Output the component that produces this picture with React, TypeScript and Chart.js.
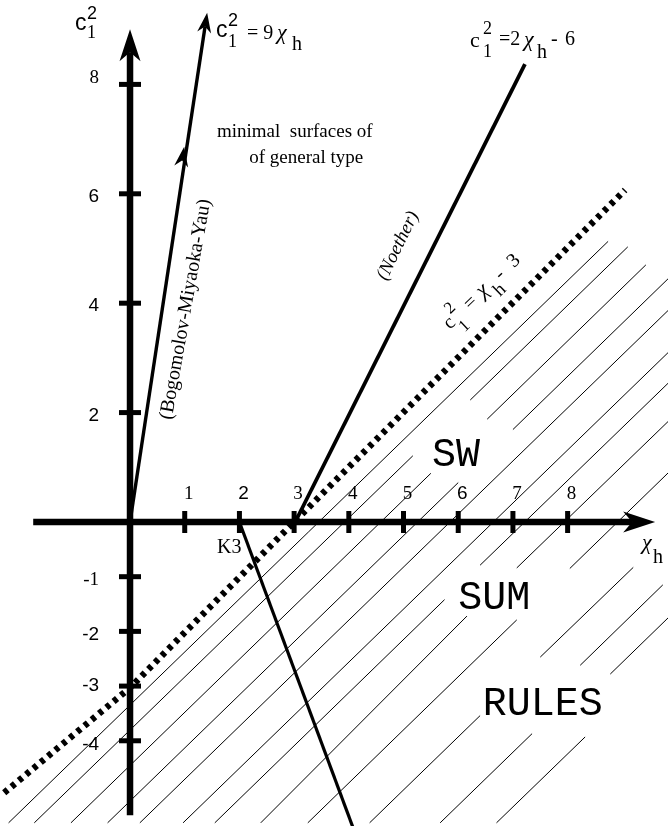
import React, { useEffect, useRef } from "react";
import { Chart, registerables } from "chart.js";
Chart.register(...registerables);

const SERIF = "'Liberation Serif', 'Times New Roman', serif";
const SANS = "'Liberation Sans', Arial, sans-serif";
const MONO = "'Liberation Mono', 'Courier New', monospace";
const CHI = `italic 22px ${SERIF}`;

// visible window (chi_h horizontally, c1^2 vertically)
const X_MIN = -2.377, X_MAX = 9.835, Y_MIN = -5.558, Y_MAX = 9.543;
const UNIT = 54.7; // px per unit on both axes (layout constant)

// axis ticks
const xTickValues = [1, 2, 3, 4, 5, 6, 7, 8];
const xTickLabels = ["1", "2", "3", "4", "5", "6", "7", "8"];
const xTickFonts = ["serif", "sans", "serif", "serif", "serif", "sans", "serif", "serif"];
const yTickValues = [8, 6, 4, 2, -1, -2, -3, -4];
const yTickLabels = ["8", "6", "4", "2", "-1", "-2", "-3", "-4"];
const yTickFonts = ["serif", "sans", "sans", "sans", "serif", "sans", "sans", "sans"];
// vertical nudge (px) of each y tick label's baseline from its tick (layout)
const yTickLabelShift = [-1, 8, 8, 8, 8, 9, 5, 9];

// axes extents (start, arrow tip)
const xAxisExtent = [-1.77, 9.6];
const yAxisExtent = [-5.36, 9.01];

// lines (chi_h, c1^2)
const bmyLine = [[0, 0], [1.41, 9.31]];
const bmyMidArrow = [0.99, 6.86];
const noetherLine = [[3.02, 0], [7.22, 8.37]];
const k3Line = [[2, 0], [4.1, -5.65]];
const dottedLine = [[-2.3, -4.95], [0, -3.03], [3, 0], [9.05, 6.07]];

// hatch strokes [x1, y1, x2, y2]
const hatchSegments = [
  [-2.22, -5.5, 8.74, 5.13],
  [-1.75, -5.5, 5.17, 1.21],
  [6.22, 2.23, 9.1, 5.03],
  [-1.08, -5.5, 5.5, 0.89],
  [6.53, 1.88, 9.43, 4.7],
  [-0.41, -5.5, 6.0, 0.72],
  [7.0, 1.69, 9.84, 4.45],
  [0.18, -5.5, 9.84, 3.87],
  [0.97, -5.5, 9.84, 3.1],
  [1.55, -5.5, 5.75, -1.42],
  [6.4, -0.79, 9.84, 2.54],
  [2.39, -5.5, 6.16, -1.72],
  [7.07, -0.84, 9.84, 1.84],
  [3.25, -5.5, 7.07, -1.79],
  [8.04, -0.85, 9.84, 0.9],
  [4.38, -5.5, 6.4, -3.54],
  [7.5, -2.47, 9.2, -0.83],
  [5.67, -5.5, 7.35, -3.87],
  [8.23, -2.62, 9.74, -1.15],
  [6.7, -5.5, 8.32, -3.93],
  [8.78, -2.78, 9.84, -1.75],
];

// arrow head sizes (px): length, half width, notch
const AXIS_HEAD = { L: 32, W: 10.5, N: 9 };
const LINE_HEAD = { L: 20, W: 7, N: 6 };

type Part = { t: string; f: string; du: number; dv: number };
type Label = { at: number[]; rot: number; parts: Part[]; align?: CanvasTextAlign; base?: CanvasTextBaseline };

const labels: Label[] = [
  { at: [-1.005, 9.0], rot: 0, parts: [
    { t: "c", f: `23px ${SANS}`, du: 0, dv: 0 },
    { t: "2", f: `18px ${SANS}`, du: 12, dv: -11 },
    { t: "1", f: `18px ${SERIF}`, du: 12, dv: 8 },
  ] },
  { at: [1.572, 8.867], rot: 0, parts: [
    { t: "c", f: `23px ${SANS}`, du: 0, dv: 0 },
    { t: "2", f: `18px ${SANS}`, du: 12, dv: -11 },
    { t: "1", f: `18px ${SERIF}`, du: 12, dv: 10 },
    { t: "= 9", f: `20px ${SERIF}`, du: 31, dv: 2 },
    { t: "χ", f: CHI, du: 61, dv: 2 },
    { t: "h", f: `20px ${SERIF}`, du: 76, dv: 13 },
  ] },
  { at: [6.216, 8.684], rot: 0, parts: [
    { t: "c", f: `22px ${SERIF}`, du: 0, dv: 0 },
    { t: "2", f: `18px ${SERIF}`, du: 13, dv: -13 },
    { t: "1", f: `18px ${SERIF}`, du: 13, dv: 10 },
    { t: "=2", f: `20px ${SERIF}`, du: 29, dv: -2 },
    { t: "χ", f: CHI, du: 54, dv: -1 },
    { t: "h", f: `20px ${SERIF}`, du: 67, dv: 11 },
    { t: "-", f: `20px ${SERIF}`, du: 81, dv: -2 },
    { t: "6", f: `20px ${SERIF}`, du: 95, dv: -2 },
  ] },
  { at: [1.59, 7.04], rot: 0, parts: [{ t: "minimal  surfaces of", f: `19px ${SERIF}`, du: 0, dv: 0 }] },
  { at: [2.18, 6.56], rot: 0, parts: [{ t: "of general type", f: `19px ${SERIF}`, du: 0, dv: 0 }] },
  { at: [1.02, 3.89], rot: -80, align: "center", base: "middle", parts: [
    { t: "(Bogomolov-Miyaoka-Yau)", f: `20px ${SERIF}`, du: 0, dv: 0 },
  ] },
  { at: [4.9, 5.05], rot: -64, align: "center", base: "middle", parts: [
    { t: "(Noether)", f: `italic 19px ${SERIF}`, du: 0, dv: 0 },
  ] },
  { at: [5.85, 3.51], rot: -44, parts: [
    { t: "c", f: `20px ${SERIF}`, du: 0, dv: 0 },
    { t: "2", f: `17px ${SERIF}`, du: 11, dv: -11 },
    { t: "1", f: `17px ${SERIF}`, du: 9, dv: 12 },
    { t: "=", f: `20px ${SERIF}`, du: 28, dv: 0 },
    { t: "χ", f: CHI, du: 46, dv: 0 },
    { t: "h", f: `19px ${SERIF}`, du: 59, dv: 11 },
    { t: "-", f: `20px ${SERIF}`, du: 71, dv: 0 },
    { t: "3", f: `20px ${SERIF}`, du: 89, dv: 0 },
  ] },
  { at: [5.52, 1.02], rot: 0, parts: [{ t: "SW", f: `40px ${MONO}`, du: 0, dv: 0 }] },
  { at: [6.0, -1.59], rot: 0, parts: [{ t: "SUM", f: `40px ${MONO}`, du: 0, dv: 0 }] },
  { at: [6.45, -3.53], rot: 0, parts: [{ t: "RULES", f: `40px ${MONO}`, du: 0, dv: 0 }] },
  { at: [1.59, -0.57], rot: 0, parts: [{ t: "K3", f: `20px ${SERIF}`, du: 0, dv: 0 }] },
  { at: [9.36, -0.49], rot: 0, parts: [
    { t: "χ", f: CHI, du: 0, dv: 0 },
    { t: "h", f: `20px ${SERIF}`, du: 11, dv: 14 },
  ] },
];

const pts = (arr: number[][]) => arr.map(([x, y]) => ({ x, y }));

function shortenEnd(p0: number[], p1: number[], px: number) {
  const dx = p1[0] - p0[0], dy = p1[1] - p0[1];
  const len = Math.hypot(dx, dy);
  const d = px / UNIT;
  return [p1[0] - (dx / len) * d, p1[1] - (dy / len) * d];
}

function head(ctx: CanvasRenderingContext2D, tx: number, ty: number, ux: number, uy: number, h: { L: number; W: number; N: number }) {
  const nx = -uy, ny = ux;
  const bx = tx - ux * h.L, by = ty - uy * h.L;
  ctx.beginPath();
  ctx.moveTo(tx, ty);
  ctx.lineTo(bx + nx * h.W, by + ny * h.W);
  ctx.lineTo(tx - ux * (h.L - h.N), ty - uy * (h.L - h.N));
  ctx.lineTo(bx - nx * h.W, by - ny * h.W);
  ctx.closePath();
  ctx.fill();
}

const fontOf = (k: string) => (k === "sans" ? SANS : SERIF);

const annotPlugin = {
  id: "annot",
  afterDatasetsDraw(chart: any) {
    const { ctx } = chart;
    const sx = chart.scales.x, sy = chart.scales.y;
    const X = (v: number) => sx.getPixelForValue(v);
    const Y = (v: number) => sy.getPixelForValue(v);
    ctx.save();
    ctx.fillStyle = "#000";
    head(ctx, X(xAxisExtent[1]), Y(0), 1, 0, AXIS_HEAD);
    head(ctx, X(0), Y(yAxisExtent[1]), 0, -1, AXIS_HEAD);
    const p0x = X(bmyLine[0][0]), p0y = Y(bmyLine[0][1]);
    const p1x = X(bmyLine[1][0]), p1y = Y(bmyLine[1][1]);
    const l = Math.hypot(p1x - p0x, p1y - p0y);
    const ux = (p1x - p0x) / l, uy = (p1y - p0y) / l;
    head(ctx, p1x, p1y, ux, uy, LINE_HEAD);
    head(ctx, X(bmyMidArrow[0]), Y(bmyMidArrow[1]), ux, uy, LINE_HEAD);

    ctx.textBaseline = "alphabetic";
    ctx.textAlign = "center";
    xTickValues.forEach((v, i) => {
      ctx.font = `19px ${fontOf(xTickFonts[i])}`;
      ctx.fillText(xTickLabels[i], X(v) + 4, Y(0) - 23);
    });
    ctx.textAlign = "right";
    yTickValues.forEach((v, i) => {
      ctx.font = `19px ${fontOf(yTickFonts[i])}`;
      ctx.fillText(yTickLabels[i], X(0) - 31, Y(v) + yTickLabelShift[i]);
    });

    labels.forEach((lb) => {
      ctx.save();
      ctx.translate(X(lb.at[0]), Y(lb.at[1]));
      ctx.rotate((lb.rot * Math.PI) / 180);
      ctx.textAlign = lb.align || "left";
      ctx.textBaseline = lb.base || "alphabetic";
      lb.parts.forEach((p) => {
        ctx.font = p.f;
        ctx.fillText(p.t, p.du, p.dv);
      });
      ctx.restore();
    });
    ctx.restore();
  },
};

function lineDs(data: { x: number; y: number }[], width: number, extra: any = {}) {
  return {
    data,
    showLine: true,
    borderColor: "#000",
    backgroundColor: "#000",
    borderWidth: width,
    borderCapStyle: "butt",
    borderJoinStyle: "miter",
    pointRadius: 0,
    tension: 0,
    fill: false,
    ...extra,
  };
}

export default function App() {
  const ref = useRef<HTMLCanvasElement>(null);
  useEffect(() => {
    if (!ref.current) return;
    const xShaftEnd = xAxisExtent[1] - (AXIS_HEAD.L - AXIS_HEAD.N) / UNIT;
    const yShaftEnd = yAxisExtent[1] - (AXIS_HEAD.L - AXIS_HEAD.N) / UNIT;
    const bmyEnd = shortenEnd(bmyLine[0], bmyLine[1], LINE_HEAD.L - LINE_HEAD.N);

    const datasets: any[] = [];
    hatchSegments.forEach((s) => {
      datasets.push(lineDs([{ x: s[0], y: s[1] }, { x: s[2], y: s[3] }], 1, { order: 10 }));
    });
    datasets.push(lineDs(pts(dottedLine), 6.5, { borderDash: [4.5, 5], order: 5 }));
    datasets.push(lineDs(pts(k3Line), 3.2, { order: 4 }));
    datasets.push(lineDs(pts(noetherLine), 3.8, { order: 4 }));
    datasets.push(lineDs(pts([bmyLine[0], bmyEnd]), 3.4, { order: 4 }));
    datasets.push(lineDs([{ x: xAxisExtent[0], y: 0 }, { x: xShaftEnd, y: 0 }], 6.5, { order: 2 }));
    datasets.push(lineDs([{ x: 0, y: yAxisExtent[0] }, { x: 0, y: yShaftEnd }], 6.5, { order: 2 }));
    datasets.push({
      data: xTickValues.map((v) => ({ x: v, y: 0 })),
      showLine: false,
      pointStyle: "line",
      pointRadius: 11,
      pointRotation: 90,
      pointBorderWidth: 5,
      pointBorderColor: "#000",
      pointBackgroundColor: "#000",
      order: 1,
    });
    datasets.push({
      data: yTickValues.map((v) => ({ x: 0, y: v })),
      showLine: false,
      pointStyle: "line",
      pointRadius: 11,
      pointRotation: 0,
      pointBorderWidth: 5,
      pointBorderColor: "#000",
      pointBackgroundColor: "#000",
      order: 1,
    });

    const chart = new Chart(ref.current, {
      type: "scatter",
      data: { datasets },
      options: {
        responsive: false,
        animation: false,
        devicePixelRatio: 1,
        events: [],
        layout: { padding: 0, autoPadding: false },
        plugins: { legend: { display: false }, tooltip: { enabled: false } },
        scales: {
          x: { type: "linear", min: X_MIN, max: X_MAX, display: false },
          y: { type: "linear", min: Y_MIN, max: Y_MAX, display: false },
        },
      },
      plugins: [annotPlugin],
    } as any);
    return () => chart.destroy();
  }, []);
  return (
    <canvas
      ref={ref}
      width={668}
      height={826}
      style={{ position: "absolute", left: 0, top: 0, background: "#fff" }}
    />
  );
}
